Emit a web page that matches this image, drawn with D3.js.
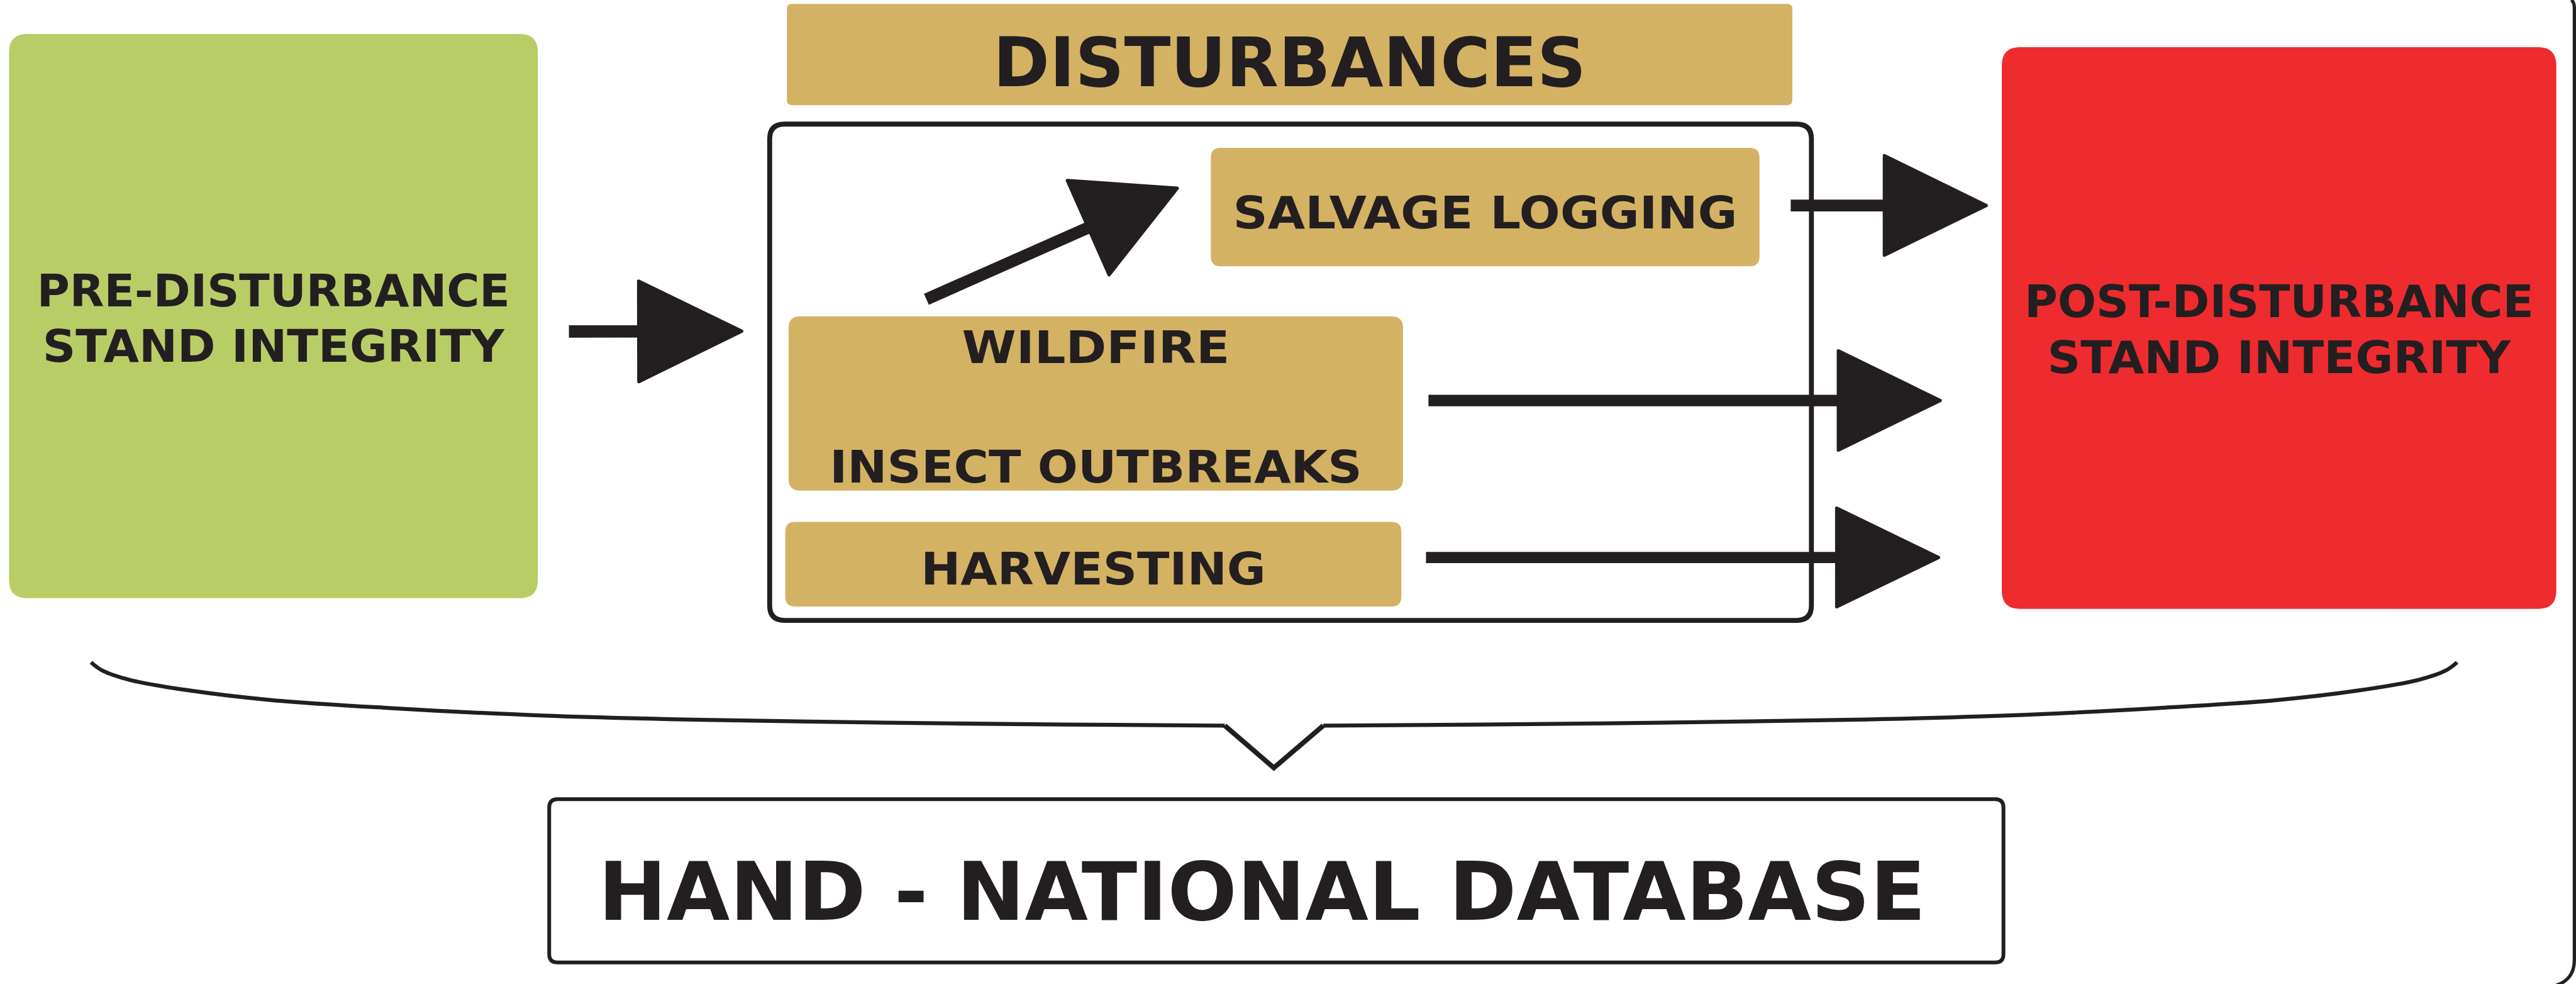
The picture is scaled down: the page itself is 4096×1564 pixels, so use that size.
<!DOCTYPE html>
<html>
<head>
<meta charset="utf-8">
<script src="https://cdn.jsdelivr.net/npm/d3@7"></script>
<style>
  html, body { margin: 0; padding: 0; background: #fff; overflow: hidden; }
  svg { display: block; }
</style>
</head>
<body>
<figure id="diagram" style="margin:0"></figure>
<script>
// labels of the diagram
const stageLabels = [["PRE-DISTURBANCE", "STAND INTEGRITY"], ["POST-DISTURBANCE", "STAND INTEGRITY"]];
const headerLabel = "DISTURBANCES";
const disturbanceLabels = [["SALVAGE LOGGING"], ["WILDFIRE", "INSECT OUTBREAKS"], ["HARVESTING"]];
const databaseLabel = "HAND - NATIONAL DATABASE";

// layout, in units of the reference (1568 x 599)
const W = 1568, H = 599;
const ink = "#231f20";
const green = "#b9cd67", tan = "#d4b264", red = "#ee2b2f";

const stageBoxes = [
  { x0: 5.5, x1: 327.4, y0: 20.7, y1: 364, r: 11, fill: green, lines: [{ y: 186.4, w: 288 }, { y: 220, w: 281 }] },
  { x0: 1218.5, x1: 1556, y0: 28.7, y1: 370.5, r: 11, fill: red, lines: [{ y: 193, w: 310 }, { y: 227, w: 282 }] }
];
const disturbanceBoxes = [
  { x0: 737, x1: 1071, y0: 90, y1: 162, r: 6, lines: [{ y: 139, w: 307 }] },
  { x0: 480, x1: 854, y0: 192.5, y1: 298.5, r: 7, lines: [{ y: 221, w: 163 }, { y: 293.5, w: 324 }] },
  { x0: 478, x1: 853, y0: 317.5, y1: 369, r: 6, lines: [{ y: 355.6, w: 210 }] }
];
const header = { x0: 479, x1: 1091, y0: 2.4, y1: 64, r: 3, line: { y: 52.4, w: 361 } };
const container = { x0: 468.5, x1: 1102.6, y0: 75.5, y1: 377.5, r: 9 };
const dbBox = { x0: 334.3, x1: 1219.5, y0: 486.3, y1: 585.6, r: 5, line: { y: 559.6, w: 808 } };

const arrows = [
  { sx: 346.3, sy: 201.7, tx: 451.5, ty: 201.5, head: 62.7, half: 30.6, w: 7.5 },
  { sx: 563.9, sy: 182.1, tx: 716.6, ty: 114.5, head: 59.3, half: 31.4, w: 7.3 },
  { sx: 1090, sy: 125, tx: 1209, ty: 125, head: 62, half: 30.3, w: 7.2 },
  { sx: 869.5, sy: 243.7, tx: 1181, ty: 243.7, head: 62, half: 30.2, w: 7 },
  { sx: 868, sy: 339.2, tx: 1180, ty: 339.2, head: 62, half: 30, w: 6.8 }
];

// left half of the brace, the right half is its mirror about x = 775.5
const braceLeft = [[55.4, 403], [62.3, 408], [79, 413.7], [114.6, 420], [165.5, 426], [236.8, 430.8], [331, 435.4], [427.8, 438], [580, 440.2], [745.5, 441.5]];
const braceTip = [[745.5, 441.5], [775.4, 467.2], [805.5, 441.5]];

const k = 4096 / W;
const x = d3.scaleLinear().domain([0, W]).range([0, W * k]);
const y = d3.scaleLinear().domain([0, H]).range([0, H * k]);

const svg = d3.select("figure#diagram")
  .append("svg")
  .attr("width", 4096)
  .attr("height", 1564);

function roundBox(b) {
  const p = d3.path();
  const r = b.r * k;
  const x0 = x(b.x0), x1 = x(b.x1), y0 = y(b.y0), y1 = y(b.y1);
  p.moveTo(x0 + r, y0);
  p.lineTo(x1 - r, y0);
  p.quadraticCurveTo(x1, y0, x1, y0 + r);
  p.lineTo(x1, y1 - r);
  p.quadraticCurveTo(x1, y1, x1 - r, y1);
  p.lineTo(x0 + r, y1);
  p.quadraticCurveTo(x0, y1, x0, y1 - r);
  p.lineTo(x0, y0 + r);
  p.quadraticCurveTo(x0, y0, x0 + r, y0);
  p.closePath();
  return p.toString();
}

function label(g, text, cx, line, size) {
  g.append("text")
    .attr("x", x(cx))
    .attr("y", y(line.y))
    .attr("text-anchor", "middle")
    .attr("font-family", "'DejaVu Sans', Verdana, sans-serif")
    .attr("font-weight", "bold")
    .attr("font-size", size * k)
    .attr("fill", ink)
    .attr("textLength", line.w * k)
    .attr("lengthAdjust", "spacingAndGlyphs")
    .text(text);
}

// Header
svg.append("path").attr("d", roundBox(header)).attr("fill", tan);
label(svg, headerLabel, (header.x0 + header.x1) / 2, header.line, 41.5);

// Container around disturbances
svg.append("path").attr("d", roundBox(container))
  .attr("fill", "none").attr("stroke", ink).attr("stroke-width", 3 * k);

// Stage boxes
stageBoxes.forEach((b, i) => {
  svg.append("path").attr("d", roundBox(b)).attr("fill", b.fill);
  stageLabels[i].forEach((t, j) => label(svg, t, (b.x0 + b.x1) / 2, b.lines[j], 27.5));
});

// Disturbance boxes
disturbanceBoxes.forEach((b, i) => {
  svg.append("path").attr("d", roundBox(b)).attr("fill", tan);
  disturbanceLabels[i].forEach((t, j) => label(svg, t, (b.x0 + b.x1) / 2, b.lines[j], 27.5));
});

// Arrows
const arrowG = svg.append("g").attr("fill", ink).attr("stroke", ink);
arrows.forEach(a => {
  const dx = a.tx - a.sx, dy = a.ty - a.sy;
  const len = Math.hypot(dx, dy);
  const ux = dx / len, uy = dy / len;
  const bx = a.tx - ux * a.head, by = a.ty - uy * a.head;
  arrowG.append("line")
    .attr("x1", x(a.sx)).attr("y1", y(a.sy))
    .attr("x2", x(bx + ux * 2)).attr("y2", y(by + uy * 2))
    .attr("stroke-width", a.w * k);
  const pts = [
    [a.tx, a.ty],
    [bx - uy * a.half, by + ux * a.half],
    [bx + uy * a.half, by - ux * a.half]
  ];
  arrowG.append("path")
    .attr("d", d3.line().x(d => x(d[0])).y(d => y(d[1]))(pts) + "Z")
    .attr("stroke-width", 2 * k)
    .attr("stroke-linejoin", "round");
});

// Brace joining the stages to the database
const braceLine = d3.line().x(d => x(d[0])).y(d => y(d[1])).curve(d3.curveCatmullRom);
const braceRight = braceLeft.map(d => [1551 - d[0], d[1]]);
svg.append("path").attr("d", braceLine(braceLeft))
  .attr("fill", "none").attr("stroke", ink).attr("stroke-width", 2.4 * k);
svg.append("path").attr("d", braceLine(braceRight))
  .attr("fill", "none").attr("stroke", ink).attr("stroke-width", 2.4 * k);
svg.append("path").attr("d", d3.line().x(d => x(d[0])).y(d => y(d[1]))(braceTip))
  .attr("fill", "none").attr("stroke", ink).attr("stroke-width", 3 * k)
  .attr("stroke-linejoin", "miter");

// Database box
svg.append("path").attr("d", roundBox(dbBox))
  .attr("fill", "#fff").attr("stroke", ink).attr("stroke-width", 2.3 * k);
label(svg, databaseLabel, 768.2, dbBox.line, 49);

// Edge of the page frame on the right
const frame = d3.path();
frame.moveTo(x(1565), y(0));
frame.quadraticCurveTo(x(1567), y(1), x(1567), y(5));
frame.lineTo(x(1567), y(584));
frame.quadraticCurveTo(x(1567), y(596), x(1556), y(599.5));
svg.append("path").attr("d", frame.toString())
  .attr("fill", "none").attr("stroke", ink).attr("stroke-width", 2 * k);
</script>
</body>
</html>
